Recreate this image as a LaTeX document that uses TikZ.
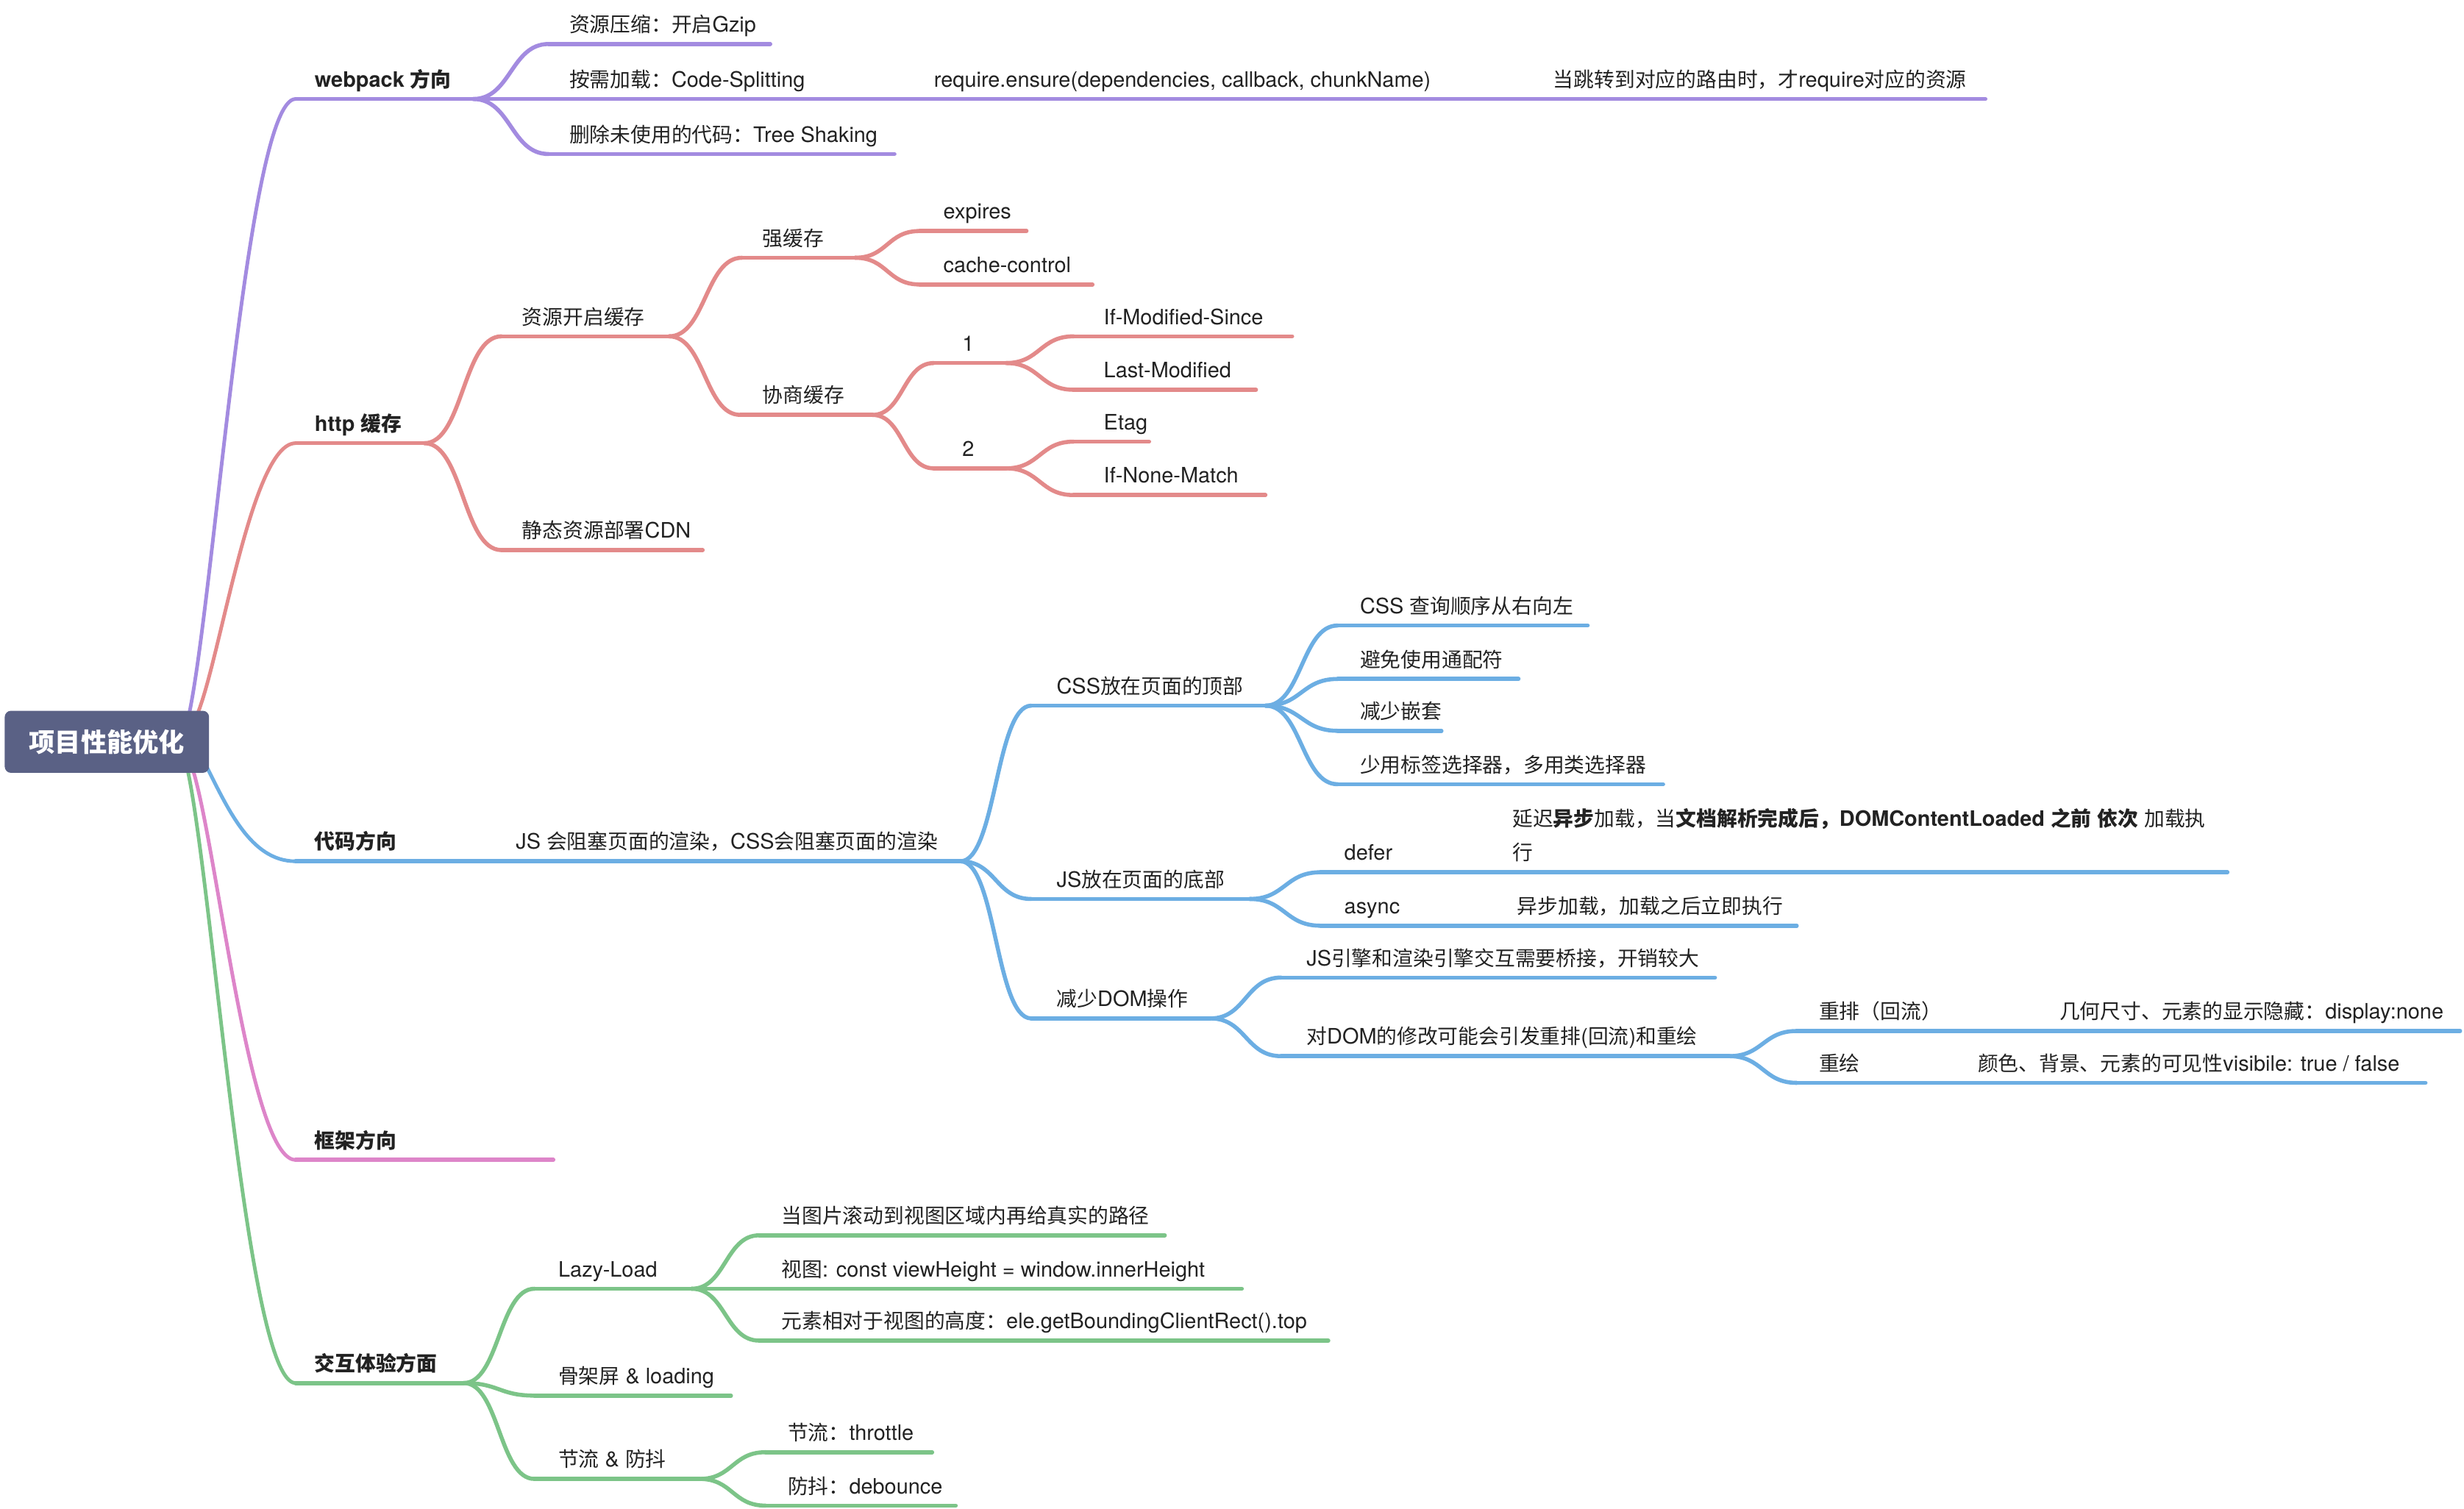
\documentclass[tikz,border=0pt]{standalone}
\usepackage{fontspec}
\setmainfont{TeX Gyre Heros}[Scale=1.04]
\newfontfamily\cjkfont{Noto Sans CJK SC}
\usetikzlibrary{calc}
% automatic switch to the CJK font for CJK characters
\newXeTeXintercharclass\CJKcls
\makeatletter
\def\setcjkrange#1#2{\count@=#1\relax
  \loop\XeTeXcharclass\count@=\CJKcls\relax
  \ifnum\count@<#2\relax\advance\count@ by 1\repeat}
\makeatother
\setcjkrange{"3000}{"303F}
\setcjkrange{"4E00}{"9FFF}
\setcjkrange{"FF00}{"FFEF}
\XeTeXinterchartoks 0 \CJKcls={\begingroup\cjkfont}
\XeTeXinterchartoks 4095 \CJKcls={\begingroup\cjkfont}
\XeTeXinterchartoks \CJKcls 0={\endgroup}
\XeTeXinterchartoks \CJKcls 4095={\endgroup}
\XeTeXinterchartokenstate=1

\definecolor{cP}{HTML}{A38BE0}
\definecolor{cR}{HTML}{E38A8A}
\definecolor{cB}{HTML}{6CAEE3}
\definecolor{cK}{HTML}{DD85C9}
\definecolor{cG}{HTML}{7CC488}
\definecolor{rootc}{HTML}{5A6185}
\definecolor{txt}{HTML}{222222}

\tikzset{
  br/.style={line width=2.6pt, line cap=round},
  rbr/.style={line width=2.3pt, line cap=round},
  lbl/.style={anchor=base west, inner sep=0pt, text=txt, font=\fontsize{13}{16}\selectfont},
  lblb/.style={font=\fontsize{13}{16}\selectfont\bfseries},
  rootbox/.style={fill=rootc, rounded corners=4pt, minimum width=130pt, minimum height=39.5pt,
    inner sep=0pt, text=white, font=\fontsize{16.5}{20}\selectfont\bfseries},
}

% #1 label style, #2 name, #3 colour, #4 line start x, #5 line end x, #6 line y, #7 text x, #8 text
\newcommand\topic[8][]{%
  \coordinate (#2s) at (#4,#6);
  \coordinate (#2e) at (#5,#6);
  \draw[br,#3] (#2s) -- (#2e);
  \node[lbl,#1] (#2) at (#7,#6-7.6) {#8};}
% S-shaped connector between two named points
\newcommand\bcurve[3]{\draw[br,#1] let \p1=(#2),\p2=(#3) in
  (\p1) .. controls ({\x1+0.5*(\x2-\x1)},\y1) and ({\x2-0.5*(\x2-\x1)},\y2) .. (\p2);}
% connector from the central topic
\newcommand\rcurve[3]{\draw[rbr,#1] let \p1=(#2),\p2=(#3) in
  (\p1) .. controls ({\x1+0.24*(\x2-\x1)},{\y1+0.18*(\y2-\y1)}) and ({\x1+0.55*(\x2-\x1)},\y2) .. (\p2);}

\begin{document}
\begin{tikzpicture}[x=1pt,y=-1pt]
\useasboundingbox (0,0) rectangle (1567.5,960.15);

% ---------- webpack
\topic[lblb]{wp}{cP}{188}{301}{63}{200}{webpack 方向}
\topic{gz}{cP}{349}{490}{28}{362}{资源压缩：开启Gzip}
\topic{sp}{cP}{301}{580}{63}{362}{按需加载：Code-Splitting}
\topic{re}{cP}{580}{975}{63}{594}{require.ensure(dependencies, callback, chunkName)}
\topic{rt}{cP}{975}{1263}{63}{988}{当跳转到对应的路由时，才require对应的资源}
\topic{tr}{cP}{349}{569}{98}{362}{删除未使用的代码：Tree Shaking}
\bcurve{cP}{wpe}{gzs}
\bcurve{cP}{wpe}{trs}

% ---------- http
\topic[lblb]{ht}{cR}{188}{270}{282}{200}{http 缓存}
\topic{rc}{cR}{319}{425.6}{214}{332}{资源开启缓存}
\topic{qh}{cR}{472}{544}{164}{485}{强缓存}
\topic{ex}{cR}{585}{653}{147}{600}{expires}
\topic{cc}{cR}{585}{695}{181}{600}{cache-control}
\topic{xs}{cR}{471}{555}{264}{485}{协商缓存}
\topic{na}{cR}{594}{640}{231}{612}{1}
\topic{im}{cR}{683}{822}{214}{702}{If-Modified-Since}
\topic{lm}{cR}{683}{799}{248}{702}{Last-Modified}
\topic{nb}{cR}{594}{640}{298}{612}{2}
\topic{et}{cR}{683}{731}{281}{702}{Etag}
\topic{inm}{cR}{683}{805}{315}{702}{If-None-Match}
\topic{cd}{cR}{319}{447}{350}{332}{静态资源部署CDN}
\bcurve{cR}{hte}{rcs}
\bcurve{cR}{hte}{cds}
\bcurve{cR}{rce}{qhs}
\bcurve{cR}{rce}{xss}
\bcurve{cR}{qhe}{exs}
\bcurve{cR}{qhe}{ccs}
\bcurve{cR}{xse}{nas}
\bcurve{cR}{xse}{nbs}
\bcurve{cR}{nae}{ims}
\bcurve{cR}{nae}{lms}
\bcurve{cR}{nbe}{ets}
\bcurve{cR}{nbe}{inms}

% ---------- code
\topic[lblb]{co}{cB}{188}{315}{548}{200}{代码方向}
\topic{jb}{cB}{315}{611}{548}{328}{JS 会阻塞页面的渲染，CSS会阻塞页面的渲染}
\topic{ct}{cB}{656}{805}{449}{672}{CSS放在页面的顶部}
\topic{ca}{cB}{851}{1010}{398}{865}{CSS 查询顺序从右向左}
\topic{cb}{cB}{851}{966}{432}{865}{避免使用通配符}
\topic{cx}{cB}{851}{917}{465}{865}{减少嵌套}
\topic{cy}{cB}{851}{1058}{499}{865}{少用标签选择器，多用类选择器}
\topic{jt}{cB}{656}{795}{572}{672}{JS放在页面的底部}
\topic{df}{cB}{840}{948}{555}{855}{defer}
\topic{dd}{cB}{948}{1417}{555}{962}{行}
\node[lbl] (ddtop) at (962,525.6) {延迟\textbf{异步}加载，当\textbf{文档解析完成后，DOMContentLoaded 之前 依次} 加载执};
\topic{as}{cB}{840}{950}{589}{855}{async}
\topic{ad}{cB}{950}{1143}{589}{965}{异步加载，加载之后立即执行}
\topic{dm}{cB}{656}{770}{648}{672}{减少DOM操作}
\topic{da}{cB}{815}{1091}{622}{831}{JS引擎和渲染引擎交互需要桥接，开销较大}
\topic{db}{cB}{815}{1100}{672}{831}{对DOM的修改可能会引发重排(回流)和重绘}
\topic{rf}{cB}{1143}{1297}{656}{1157}{重排（回流）}
\topic{rfd}{cB}{1297}{1565}{656}{1310}{几何尺寸、元素的显示隐藏：display:none}
\topic{rh}{cB}{1143}{1245}{689}{1157}{重绘}
\topic{rhd}{cB}{1245}{1543}{689}{1258}{颜色、背景、元素的可见性visibile: true / false}
\bcurve{cB}{jbe}{cts}
\bcurve{cB}{jbe}{jts}
\bcurve{cB}{jbe}{dms}
\bcurve{cB}{cte}{cas}
\bcurve{cB}{cte}{cbs}
\bcurve{cB}{cte}{cxs}
\bcurve{cB}{cte}{cys}
\bcurve{cB}{jte}{dfs}
\bcurve{cB}{jte}{ass}
\bcurve{cB}{dme}{das}
\bcurve{cB}{dme}{dbs}
\bcurve{cB}{dbe}{rfs}
\bcurve{cB}{dbe}{rhs}

% ---------- framework
\topic[lblb]{fw}{cK}{188}{352}{738}{200}{框架方向}

% ---------- interaction
\topic[lblb]{ix}{cG}{188}{295}{880}{200}{交互体验方面}
\topic{lz}{cG}{340}{440}{820}{355}{Lazy-Load}
\topic{la}{cG}{483}{741}{786}{497}{当图片滚动到视图区域内再给真实的路径}
\topic{lb}{cG}{440}{790}{820}{497}{视图: const viewHeight = window.innerHeight}
\topic{lc}{cG}{483}{845}{853}{497}{元素相对于视图的高度：ele.getBoundingClientRect().top}
\topic{sk}{cG}{340}{465}{888}{355}{骨架屏 \& loading}
\topic{td}{cG}{340}{445}{941}{355}{节流 \& 防抖}
\topic{ta}{cG}{487}{593}{924}{501}{节流：throttle}
\topic{tb}{cG}{487}{608}{958}{501}{防抖：debounce}
\bcurve{cG}{ixe}{lzs}
\bcurve{cG}{ixe}{sks}
\bcurve{cG}{ixe}{tds}
\bcurve{cG}{lze}{las}
\bcurve{cG}{lze}{lcs}
\bcurve{cG}{tde}{tas}
\bcurve{cG}{tde}{tbs}

% ---------- central topic and its connectors
\coordinate (r0p) at (119.5,458);
\coordinate (r0r) at (124,458);
\coordinate (r0b) at (130,485);
\coordinate (r0k) at (121.5,486);
\coordinate (r0g) at (118.5,486);
\rcurve{cP}{r0p}{wps}
\rcurve{cR}{r0r}{hts}
\rcurve{cK}{r0k}{fws}
\rcurve{cG}{r0g}{ixs}
\draw[rbr,cB] let \p1=(r0b),\p2=(cos) in
  (\p1) .. controls ({\x1+0.25*(\x2-\x1)},{\y1+0.45*(\y2-\y1)}) and ({\x1+0.5*(\x2-\x1)},\y2) .. (\p2);
\node[rootbox] (root) at (68,472) {项目性能优化};
\end{tikzpicture}
\end{document}
